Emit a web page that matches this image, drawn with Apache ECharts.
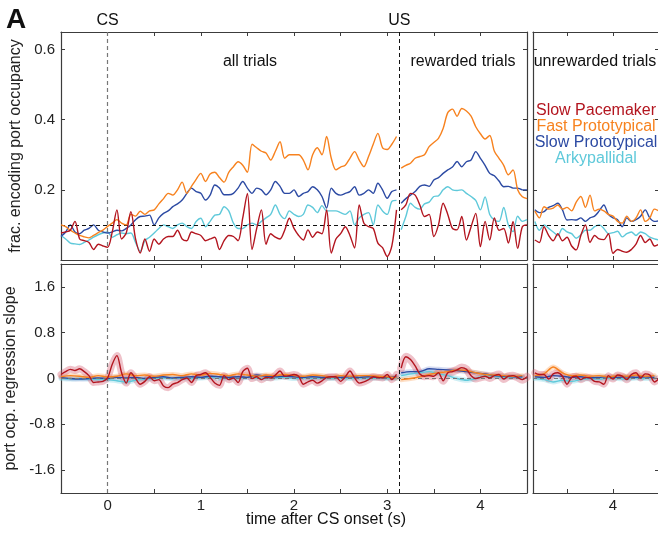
<!DOCTYPE html>
<html>
<head>
<meta charset="utf-8">
<script src="https://cdn.jsdelivr.net/npm/echarts@6/dist/echarts.min.js"></script>
<style>html,body{margin:0;padding:0;background:#fff}#c{width:658px;height:536px}</style>
</head>
<body>
<div id="c"></div>
<script>
// ---------- data ----------
const names = ['Slow Pacemaker', 'Fast Prototypical', 'Slow Prototypical', 'Arkypallidal'];
const colors = ['#b3151f', '#f7821f', '#2c4aa3', '#5fc9da'];
const US = 3.13;

const tAll = [-0.5,-0.45,-0.4,-0.35,-0.3,-0.25,-0.2,-0.15,-0.1,-0.05,0,0.05,0.1,0.15,0.2,0.25,0.3,0.35,0.4,0.45,0.5,0.55,0.6,0.65,0.7,0.75,0.8,0.85,0.9,0.95,1.0,1.05,1.1,1.15,1.2,1.25,1.3,1.35,1.4,1.45,1.5,1.55,1.6,1.65,1.7,1.75,1.8,1.85,1.9,1.95,2.0,2.05,2.1,2.15,2.2,2.25,2.3,2.35,2.4,2.45,2.5,2.55,2.6,2.65,2.7,2.75,2.8,2.85,2.9,2.95,3.0,3.05,3.1];
const tPost = [3.15,3.2,3.25,3.3,3.35,3.4,3.45,3.5,3.55,3.6,3.65,3.7,3.75,3.8,3.85,3.9,3.95,4.0,4.05,4.1,4.15,4.2,4.25,4.3,4.35,4.4,4.45,4.5];
const tAll10 = [-0.5,-0.4,-0.3,-0.2,-0.1,0,0.1,0.2,0.3,0.4,0.5,0.6,0.7,0.8,0.9,1.0,1.1,1.2,1.3,1.4,1.5,1.6,1.7,1.8,1.9,2.0,2.1,2.2,2.3,2.4,2.5,2.6,2.7,2.8,2.9,3.0,3.1];
const tPost10 = [3.15,3.25,3.35,3.45,3.55,3.65,3.75,3.85,3.95,4.05,4.15,4.25,4.35,4.45];

// top: fraction encoding port occupancy, all trials (before US)
const occRedAll = [0.077,0.08,0.085,0.11,0.06,0.055,0.05,0.03,0.045,0.04,0.036,0.08,0.143,0.06,0.077,0.138,0.06,0.02,0.06,0.025,0.06,0.045,0.06,0.067,0.067,0.085,0.06,0.055,0.08,0.075,0.07,0.055,0.06,0.065,0.03,0.055,0.07,0.067,0.055,0.12,0.19,0.03,0.09,0.143,0.045,0.075,0.065,0.06,0.085,0.119,0.09,0.07,0.057,0.086,0.065,0.08,0.075,0.143,0.02,0.06,0.075,0.095,0.07,0.034,0.157,0.105,0.095,0.09,0.048,0.035,0.01,0.04,0.143];
const occOrangeAll = [0.10,0.095,0.085,0.077,0.07,0.066,0.063,0.07,0.078,0.085,0.096,0.105,0.115,0.105,0.10,0.13,0.125,0.139,0.13,0.14,0.143,0.16,0.175,0.19,0.185,0.2,0.222,0.19,0.21,0.23,0.247,0.224,0.245,0.25,0.235,0.222,0.25,0.266,0.28,0.27,0.25,0.33,0.32,0.31,0.305,0.285,0.31,0.337,0.29,0.3,0.3,0.3,0.285,0.257,0.3,0.32,0.3,0.352,0.29,0.257,0.265,0.27,0.29,0.309,0.285,0.266,0.295,0.33,0.361,0.32,0.315,0.33,0.352];
const occBlueAll = [0.067,0.08,0.1,0.08,0.075,0.085,0.09,0.1,0.085,0.08,0.077,0.08,0.085,0.083,0.09,0.1,0.115,0.124,0.125,0.128,0.1,0.12,0.133,0.14,0.152,0.16,0.171,0.19,0.205,0.195,0.19,0.171,0.185,0.214,0.205,0.186,0.186,0.19,0.205,0.224,0.205,0.19,0.205,0.2,0.186,0.2,0.224,0.21,0.19,0.19,0.2,0.181,0.19,0.195,0.209,0.2,0.181,0.148,0.205,0.19,0.185,0.19,0.195,0.209,0.185,0.19,0.2,0.19,0.219,0.2,0.176,0.195,0.2];
const occCyanAll = [0.07,0.06,0.048,0.046,0.044,0.05,0.057,0.065,0.072,0.077,0.08,0.065,0.072,0.077,0.075,0.077,0.05,0.025,0.055,0.065,0.077,0.09,0.1,0.095,0.09,0.1,0.105,0.095,0.09,0.11,0.119,0.095,0.11,0.128,0.13,0.152,0.14,0.105,0.09,0.09,0.1,0.105,0.1,0.11,0.12,0.13,0.157,0.13,0.118,0.14,0.13,0.124,0.13,0.157,0.15,0.135,0.155,0.14,0.14,0.14,0.135,0.13,0.14,0.1,0.12,0.13,0.135,0.1,0.157,0.14,0.13,0.167,0.17];

// top: rewarded trials (after US)
const occRedRew = [0.143,0.157,0.19,0.185,0.157,0.124,0.13,0.067,0.1,0.162,0.13,0.09,0.086,0.124,0.057,0.095,0.133,0.038,0.11,0.057,0.12,0.085,0.09,0.048,0.11,0.033,0.095,0.1];
const occOrangeRew = [0.262,0.27,0.276,0.29,0.295,0.3,0.323,0.335,0.347,0.375,0.42,0.43,0.41,0.432,0.425,0.41,0.38,0.36,0.345,0.355,0.31,0.29,0.27,0.243,0.257,0.2,0.18,0.175];
const occBlueRew = [0.162,0.175,0.185,0.195,0.21,0.214,0.21,0.228,0.235,0.247,0.257,0.265,0.281,0.266,0.28,0.285,0.309,0.29,0.27,0.247,0.24,0.225,0.209,0.21,0.205,0.205,0.2,0.2];
const occCyanRew = [0.086,0.124,0.162,0.15,0.145,0.16,0.165,0.181,0.183,0.2,0.209,0.2,0.198,0.2,0.19,0.181,0.17,0.143,0.18,0.13,0.114,0.11,0.15,0.1,0.081,0.125,0.11,0.115];

// top: unrewarded trials (after US)
const occRedUnrew = [0.057,0.05,0.095,0.07,0.055,0.075,0.055,0.065,0.04,0.029,0.07,0.1,0.05,0.07,0.06,0.058,0.075,0.019,0.03,0.025,0.022,0.03,0.045,0.07,0.05,0.06,0.04,0.045];
const occOrangeUnrew = [0.14,0.12,0.152,0.145,0.148,0.157,0.145,0.15,0.14,0.165,0.181,0.15,0.185,0.14,0.145,0.14,0.13,0.125,0.11,0.105,0.125,0.11,0.12,0.143,0.11,0.12,0.145,0.14];
const occBlueUnrew = [0.143,0.135,0.138,0.15,0.155,0.162,0.143,0.114,0.115,0.114,0.12,0.11,0.12,0.125,0.14,0.157,0.13,0.12,0.115,0.095,0.12,0.11,0.115,0.125,0.143,0.12,0.11,0.112];
const occCyanUnrew = [0.11,0.085,0.1,0.09,0.08,0.07,0.09,0.08,0.075,0.062,0.072,0.085,0.085,0.095,0.1,0.09,0.075,0.078,0.082,0.066,0.075,0.08,0.07,0.08,0.075,0.065,0.06,0.057];

// bottom: port occupancy regression slope
const slopeRedAll = [0.07,0.12,0.16,0.14,0.17,0.12,0.05,-0.07,-0.06,-0.05,0.01,0.25,0.4,0.1,-0.08,0.1,0.0,-0.1,-0.05,0.03,-0.04,-0.02,-0.13,-0.16,-0.1,-0.07,-0.02,0.01,-0.07,0.05,0.07,0.1,0.02,-0.08,-0.12,0.05,-0.02,0.01,-0.07,0.12,0.18,0.0,0.03,-0.02,0.02,0.01,0.06,0.13,0.04,0.05,0.07,0.04,-0.1,-0.06,-0.03,-0.08,-0.04,0.02,0.03,0.03,-0.05,0.03,0.13,0.01,-0.08,-0.06,-0.02,0.03,0.02,0.01,0.07,-0.02,0.07];
const slopeRedRew = [0.18,0.38,0.33,0.22,0.08,0.04,0.05,0.04,0.1,-0.04,0.1,0.12,0.15,0.19,0.16,0.05,0.0,0.02,0.04,0.01,0.05,0.07,-0.01,0.04,0.05,0.02,-0.02,0.03];
const slopeRedUnrew = [0.1,0.07,0.07,-0.01,0.08,0.1,0.04,-0.1,0.02,0.04,-0.02,0.02,0.01,-0.05,-0.06,-0.1,0.05,-0.01,0.06,0.04,-0.02,0.07,0.1,0.01,0.08,0.06,-0.06,0.0];
const slopeOrangeAll = [0.03,0.05,0.04,0.02,0.05,0.03,0.04,0.08,0.05,0.06,0.04,0.06,0.07,0.05,0.08,0.06,0.09,0.07,0.05,0.08,0.06,0.04,0.06,0.05,0.07,0.05,0.04,0.06,0.05,0.03,0.05,0.04,0.05,0.05,0.04,0.03,0.01];
const slopeBlueAll = [0.02,0.0,-0.01,0.0,0.01,0.0,0.02,0.01,0.02,0.0,0.02,0.03,0.01,0.02,0.03,0.02,0.04,0.03,0.02,0.03,0.02,0.06,0.04,0.03,0.04,0.03,0.02,0.03,0.02,0.03,0.02,0.03,0.02,0.03,0.02,0.02,0.03];
const slopeCyanAll = [0.0,-0.01,0.0,-0.01,-0.02,-0.02,-0.04,-0.06,-0.03,-0.01,0.0,0.01,0.0,0.01,0.0,0.01,0.02,0.0,0.01,0.0,0.02,0.01,0.0,0.01,0.02,0.0,0.01,0.0,0.01,0.0,0.01,0.0,0.01,0.0,0.01,0.0,0.0];
const slopeOrangeRew = [-0.02,0.0,0.03,0.07,0.1,0.12,0.15,0.14,0.1,0.07,0.06,0.05,0.04,0.05];
const slopeBlueRew = [0.1,0.12,0.12,0.17,0.16,0.15,0.14,0.12,0.1,0.08,0.05,0.04,0.03,0.03];
const slopeCyanRew = [0.05,0.08,0.1,0.12,0.08,0.05,0.0,-0.03,0.0,0.05,0.04,0.02,0.03,0.02];
const slopeOrangeUnrew = [0.05,0.08,0.2,0.1,0.05,0.06,0.04,0.05,0.03,0.05,0.04,0.06,0.04,0.05];
const slopeBlueUnrew = [0.03,0.02,0.05,0.04,0.02,0.03,0.01,0.02,0.03,0.02,0.03,0.02,0.03,0.02];
const slopeCyanUnrew = [0.0,-0.02,-0.06,-0.03,-0.05,-0.02,0.0,-0.01,0.01,0.0,-0.01,0.01,0.0,0.01];

// axis ticks / labels
const xTicksMain = [-0.5,0,0.5,1,1.5,2,2.5,3,3.5,4,4.5];
const xLabelsMain = [0,1,2,3,4];
const xTicksRight = [3.5,4,4.5];
const xLabelsRight = [4];
const yTicksTop = [0.2,0.4,0.6];
const yTicksBottom = [-1.6,-0.8,0,0.8,1.6];

// ---------- chart ----------
const FONT = 'Liberation Sans, Arial, Helvetica, sans-serif';
const AX = '#3c3c3c';
const chart = echarts.init(document.getElementById('c'), null, {renderer: 'canvas'});

const grids = [
  {left: 61, top: 32, width: 466, height: 228},
  {left: 533, top: 32, width: 126, height: 228},
  {left: 61, top: 264, width: 466, height: 229},
  {left: 533, top: 264, width: 126, height: 229}
].map(g => Object.assign(g, {containLabel: false, outerBoundsMode: 'none'}));
const xRanges = [[-0.5, 4.5], [US, 4.5], [-0.5, 4.5], [US, 4.5]];
const yRanges = [[0, 0.65], [0, 0.65], [-2, 2], [-2, 2]];

const xAxis = [], yAxis = [];
grids.forEach((g, i) => {
  const right = (i % 2 === 1);
  const bottom = (i >= 2);
  const xt = right ? xTicksRight : xTicksMain;
  const xl = right ? xLabelsRight : xLabelsMain;
  const yt = bottom ? yTicksBottom : yTicksTop;
  ['bottom', 'top'].forEach(pos => {
    xAxis.push({
      type: 'value', gridIndex: i, min: xRanges[i][0], max: xRanges[i][1], position: pos,
      axisLine: {show: true, onZero: false, lineStyle: {color: AX, width: 1.2}},
      axisTick: {show: true, inside: true, length: 4, customValues: xt, lineStyle: {color: AX}},
      axisLabel: {show: bottom && pos === 'bottom', customValues: xl, color: '#222', fontSize: 15, margin: 5, fontFamily: FONT},
      splitLine: {show: false}
    });
  });
  ['left', 'right'].forEach(pos => {
    yAxis.push({
      type: 'value', gridIndex: i, min: yRanges[i][0], max: yRanges[i][1], position: pos,
      axisLine: {show: true, onZero: false, lineStyle: {color: AX, width: 1.2}},
      axisTick: {show: true, inside: true, length: 4, customValues: yt, lineStyle: {color: AX}},
      axisLabel: {show: !right && pos === 'left', customValues: yt, color: '#222', fontSize: 15, margin: 6, fontFamily: FONT},
      splitLine: {show: false},
      name: (!right && pos === 'left') ? (bottom ? 'port ocp. regression slope' : 'frac. encoding port occupancy') : '',
      nameLocation: 'middle', nameGap: 33,
      nameTextStyle: {color: '#222', fontSize: 16, fontFamily: FONT}
    });
  });
});

function zip(t, v) { return t.map((x, k) => [x, v[k]]); }
function line(ci, t, v, gi, opt) {
  opt = opt || {};
  return Object.assign({
    type: 'line', name: names[ci], xAxisIndex: gi * 2, yAxisIndex: gi * 2,
    data: zip(t, v), showSymbol: false, symbol: 'none', smooth: 0.3, silent: true,
    lineStyle: {color: colors[ci], width: 1.4}, itemStyle: {color: colors[ci]}, z: 3 + (3 - ci), animation: false
  }, opt);
}
function band(ci, t, v, gi, color, w) {
  return line(ci, t, v, gi, {lineStyle: {color: color, width: w, cap: 'round', join: 'round'}, z: 1});
}

const dashBlack = {color: '#111', type: [4, 3], width: 1};
const dashGray = {color: '#777', type: [4, 3], width: 1.2};
function vMarks(gi, withLabels) {
  const y0 = yRanges[gi][0], y1 = yRanges[gi][1];
  const lab = (txt) => withLabels ? {show: true, formatter: txt, position: 'end', distance: 3, color: '#111', fontSize: 16, fontFamily: FONT} : {show: false};
  return [
    [{coord: [0, y0], lineStyle: dashGray, label: lab('CS')}, {coord: [0, y1]}],
    [{coord: [US, y0], lineStyle: dashBlack, label: lab('US')}, {coord: [US, y1]}]
  ];
}
function hMark(gi, yv, style) {
  return [{coord: [xRanges[gi][0], yv], lineStyle: style, label: {show: false}}, {coord: [xRanges[gi][1], yv]}];
}
function ml(data) { return {silent: true, symbol: ['none', 'none'], animation: false, data: data}; }

const series = [];
// ---- top left ----
series.push(line(3, tAll, occCyanAll, 0, {markLine: ml(vMarks(0, true).concat([hMark(0, 0.1, dashBlack)]))}));
series.push(line(2, tAll, occBlueAll, 0));
series.push(line(1, tAll, occOrangeAll, 0));
series.push(line(0, tAll, occRedAll, 0));
series.push(line(3, tPost, occCyanRew, 0));
series.push(line(2, tPost, occBlueRew, 0));
series.push(line(1, tPost, occOrangeRew, 0));
series.push(line(0, tPost, occRedRew, 0));
// ---- top right ----
series.push(line(3, tPost, occCyanUnrew, 1, {markLine: ml([hMark(1, 0.1, dashBlack)])}));
series.push(line(2, tPost, occBlueUnrew, 1));
series.push(line(1, tPost, occOrangeUnrew, 1));
series.push(line(0, tPost, occRedUnrew, 1));
// ---- bottom left ----
const bandCol = ['rgba(214,95,115,0.38)', 'rgba(248,160,90,0.35)', 'rgba(120,140,210,0.3)', 'rgba(120,210,225,0.35)'];
series.push(band(3, tAll10, slopeCyanAll, 2, bandCol[3], 5));
series.push(band(2, tAll10, slopeBlueAll, 2, bandCol[2], 5));
series.push(band(1, tAll10, slopeOrangeAll, 2, bandCol[1], 5));
series.push(band(0, tAll, slopeRedAll, 2, bandCol[0], 7));
series.push(band(3, tPost10, slopeCyanRew, 2, bandCol[3], 5));
series.push(band(2, tPost10, slopeBlueRew, 2, bandCol[2], 5));
series.push(band(1, tPost10, slopeOrangeRew, 2, bandCol[1], 5));
series.push(band(0, tPost, slopeRedRew, 2, bandCol[0], 8));
series.push(line(3, tAll10, slopeCyanAll, 2, {markLine: ml(vMarks(2, false).concat([hMark(2, 0, dashGray)]))}));
series.push(line(2, tAll10, slopeBlueAll, 2));
series.push(line(1, tAll10, slopeOrangeAll, 2));
series.push(line(0, tAll, slopeRedAll, 2));
series.push(line(3, tPost10, slopeCyanRew, 2));
series.push(line(2, tPost10, slopeBlueRew, 2));
series.push(line(1, tPost10, slopeOrangeRew, 2));
series.push(line(0, tPost, slopeRedRew, 2));
// ---- bottom right ----
series.push(band(3, tPost10, slopeCyanUnrew, 3, bandCol[3], 5));
series.push(band(2, tPost10, slopeBlueUnrew, 3, bandCol[2], 5));
series.push(band(1, tPost10, slopeOrangeUnrew, 3, bandCol[1], 5));
series.push(band(0, tPost, slopeRedUnrew, 3, bandCol[0], 7));
series.push(line(3, tPost10, slopeCyanUnrew, 3, {markLine: ml([hMark(3, 0, dashGray)])}));
series.push(line(2, tPost10, slopeBlueUnrew, 3));
series.push(line(1, tPost10, slopeOrangeUnrew, 3));
series.push(line(0, tPost, slopeRedUnrew, 3));

function txt(s, x, y, opt) {
  return {type: 'text', x: x, y: y, z: 100, silent: true,
    style: Object.assign({text: s, fill: '#111', font: '16px ' + FONT, textAlign: 'center', textVerticalAlign: 'middle'}, opt || {})};
}
const legendY = [111, 127, 143, 159];
const graphic = [
  txt('A', 6, 6, {font: 'bold 28px ' + FONT, textAlign: 'left', textVerticalAlign: 'top'}),
  txt('all trials', 250, 62),
  txt('rewarded trials', 463, 62),
  txt('unrewarded trials', 595, 62),
  txt('time after CS onset (s)', 326, 520)
].concat(names.map((n, k) => txt(n, 596, legendY[k], {fill: colors[k]})));

chart.setOption({
  animation: false,
  backgroundColor: '#fff',
  textStyle: {fontFamily: FONT},
  grid: grids,
  xAxis: xAxis,
  yAxis: yAxis,
  series: series,
  graphic: graphic
});
</script>
</body>
</html>
